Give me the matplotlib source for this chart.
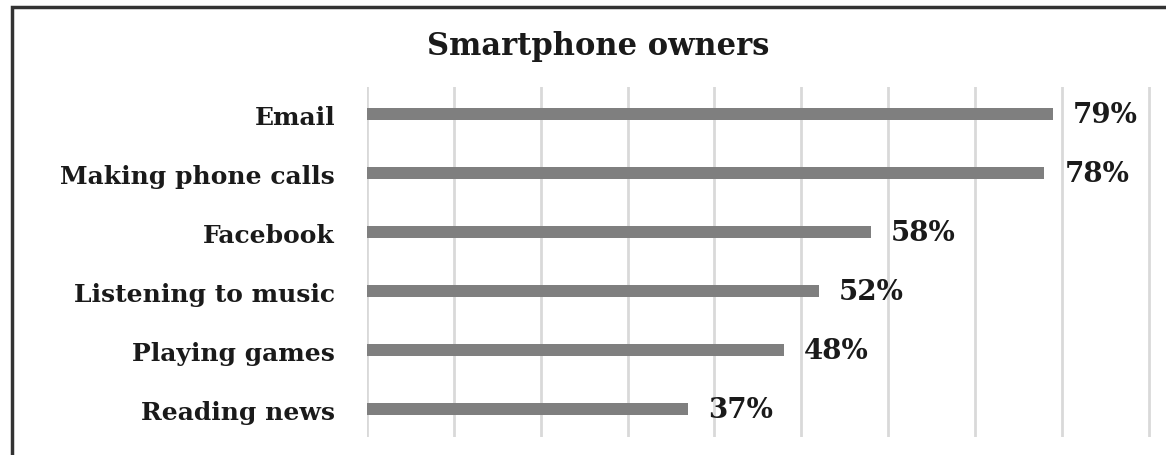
import matplotlib
matplotlib.use('Agg')
from matplotlib import pyplot as plt
from matplotlib.patches import Rectangle

# data
activities = ['Email', 'Making phone calls', 'Facebook', 'Listening to music', 'Playing games', 'Reading news']
share = [79, 78, 58, 52, 48, 37]
grid_ticks = [0, 10, 20, 30, 40, 50, 60, 70, 80, 90]

fig = plt.figure(figsize=(11.66, 4.56), dpi=100)
ax = fig.add_axes([367 / 1166, 18 / 456, 1 - 367 / 1166, 350 / 456])

pos = list(range(len(activities)))
ax.barh(pos, share, height=0.21, color='#7f7f7f', zorder=3)

for p, v in zip(pos, share):
    ax.text(v + 2.3, p, f'{v}%', va='center', ha='left', fontsize=20,
            fontweight='bold', family='DejaVu Serif', color='#1a1a1a')

ax.set_xlim(0, 92)
ax.set_ylim(len(activities) - 0.53, -0.46)
ax.set_xticks(grid_ticks)
ax.set_xticklabels([])
ax.set_yticks(pos)
ax.set_yticklabels(activities, fontsize=18, fontweight='bold', family='DejaVu Serif', color='#1a1a1a')
ax.tick_params(axis='both', length=0)
ax.tick_params(axis='y', pad=23)
ax.grid(axis='x', color='#d9d9d9', linewidth=2, zorder=0)
for s in ax.spines.values():
    s.set_visible(False)

fig.text(598 / 1166, 1 - 46 / 456, 'Smartphone owners', ha='center', va='center',
         fontsize=22, fontweight='bold', family='DejaVu Serif', color='#1a1a1a')

# outer frame (only top and left edges are inside the picture)
fig.add_artist(Rectangle((12 / 1166, -0.1), 1.2, 1 - 8 / 456 + 0.1, transform=fig.transFigure,
                         fill=False, edgecolor='#333333', linewidth=2.5))

fig.savefig('out.png', dpi=100)
